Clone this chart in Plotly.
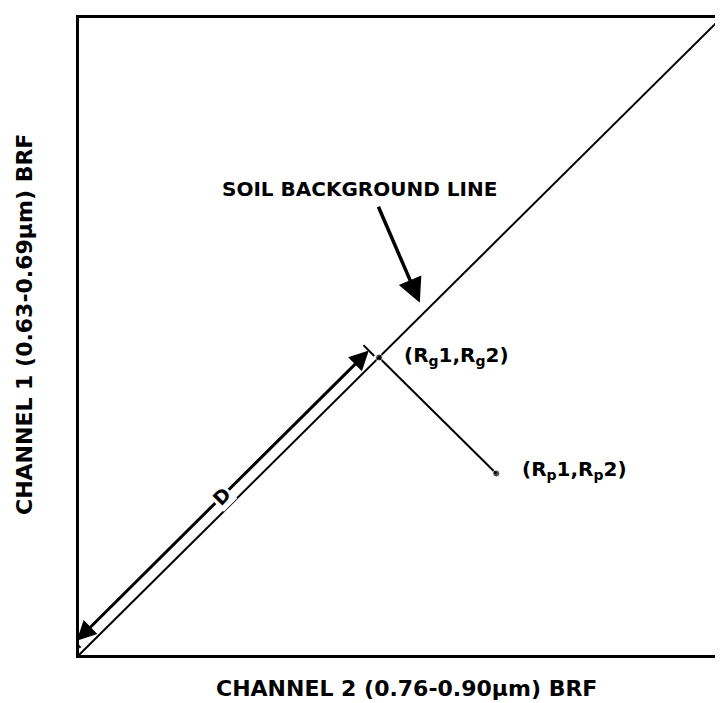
import numpy as np
import plotly.graph_objects as go

# ---- data (normalised BRF units) ----
soil_x = [0.0, 1.008]
soil_y = [0.0, 1.0]
rg_point = [0.471, 0.467]          # (Rg1, Rg2) on the soil line
rp_point = [0.655, 0.285]          # (Rp1, Rp2) plant pixel
d_start = [-0.006, 0.020]          # distance arrow D ends
d_end = [0.455, 0.478]
soil_label_tail = [0.469, 0.706]
soil_label_head = [0.535, 0.553]

x_title = "CHANNEL 2 (0.76-0.90\u03bcm) BRF"
y_title = "CHANNEL 1 (0.63-0.69\u03bcm) BRF"
soil_label = "SOIL BACKGROUND LINE"
rg_label = "(R<sub>g</sub>1,R<sub>g</sub>2)"
rp_label = "(R<sub>p</sub>1,R<sub>p</sub>2)"
d_label = "D"

FONT = "DejaVu Sans"
W, H = 723, 703
OFF = 8                      # page body margin
ML, MT = 79 - OFF, 18 - OFF
PW, PH = 644, 637
MR = W - ML - PW
MB = H - MT - PH
PLOT_BOTTOM = 18 + PH        # screen y of the x axis

fig = go.Figure()

# soil background line
fig.add_trace(go.Scatter(x=soil_x, y=soil_y, mode="lines",
                         line=dict(color="black", width=2), hoverinfo="skip"))
# perpendicular from Rp to the soil line
fig.add_trace(go.Scatter(x=[rg_point[0], rp_point[0]], y=[rg_point[1], rp_point[1]],
                         mode="lines", line=dict(color="black", width=2), hoverinfo="skip"))
# points
fig.add_trace(go.Scatter(x=[rg_point[0], rp_point[0]], y=[rg_point[1], rp_point[1]],
                         mode="markers", marker=dict(color="black", size=[7, 7]),
                         hoverinfo="skip"))

# end bars of D arrow (perpendicular ticks)
ds = np.array(d_start); de = np.array(d_end)
direc = (de - ds) / np.linalg.norm(de - ds)
perp = np.array([-direc[1], direc[0]])
tick = 0.012
for p in (ds, de):
    a = p + perp * tick
    b = p - perp * tick
    fig.add_trace(go.Scatter(x=[a[0], b[0]], y=[a[1], b[1]], mode="lines",
                             line=dict(color="black", width=2), hoverinfo="skip"))

annotations = []
# D arrow (two-headed)
annotations.append(dict(x=d_end[0], y=d_end[1], ax=d_start[0], ay=d_start[1],
                        xref="x", yref="y", axref="x", ayref="y",
                        showarrow=True, arrowhead=2, startarrowhead=2,
                        arrowside="end+start", arrowsize=1.3, startarrowsize=1.3,
                        arrowwidth=3, arrowcolor="black", text=""))
# D label (covers the line)
dm = (ds + de) / 2
annotations.append(dict(x=dm[0], y=dm[1], xref="x", yref="y", text="<b>%s</b>" % d_label,
                        showarrow=False, bgcolor="white", borderpad=1,
                        font=dict(family=FONT, size=19, color="black"), textangle=-45))
# soil background line label arrow
annotations.append(dict(x=soil_label_head[0], y=soil_label_head[1],
                        ax=soil_label_tail[0], ay=soil_label_tail[1],
                        xref="x", yref="y", axref="x", ayref="y",
                        showarrow=True, arrowhead=2, arrowsize=1.4, arrowwidth=3.5,
                        arrowcolor="black", text=""))
annotations.append(dict(x=0.441, y=0.732, xref="x", yref="y", text="<b>%s</b>" % soil_label,
                        showarrow=False, xanchor="center", yanchor="middle",
                        font=dict(family=FONT, size=20, color="black")))
annotations.append(dict(x=rg_point[0] + 0.036, y=rg_point[1] + 0.003, xref="x", yref="y",
                        text="<b>%s</b>" % rg_label, showarrow=False, xanchor="left",
                        yanchor="middle", font=dict(family=FONT, size=20, color="black")))
annotations.append(dict(x=rp_point[0] + 0.037, y=rp_point[1] + 0.006, xref="x", yref="y",
                        text="<b>%s</b>" % rp_label, showarrow=False, xanchor="left",
                        yanchor="middle", font=dict(family=FONT, size=20, color="black")))
# axis titles
annotations.append(dict(x=(406 - 79) / PW, y=(PLOT_BOTTOM - 689) / PH, xref="paper", yref="paper",
                        xanchor="center", yanchor="middle",
                        text="<b>%s</b>" % x_title, showarrow=False,
                        font=dict(family=FONT, size=22, color="black")))
annotations.append(dict(x=(24 - 79) / PW, y=(PLOT_BOTTOM - 325) / PH, xref="paper", yref="paper",
                        xanchor="center", yanchor="middle",
                        text="<b>%s</b>" % y_title, showarrow=False, textangle=-90,
                        font=dict(family=FONT, size=22, color="black")))

fig.update_layout(
    width=W, height=H,
    margin=dict(l=ML, r=MR, t=MT, b=MB),
    paper_bgcolor="white", plot_bgcolor="white",
    showlegend=False,
    annotations=annotations,
    xaxis=dict(range=[0, PW / PH], showgrid=False, zeroline=False, showticklabels=False,
               ticks="", showline=True, linecolor="black", linewidth=3, mirror=True),
    yaxis=dict(range=[0, 1], showgrid=False, zeroline=False, showticklabels=False,
               ticks="", showline=True, linecolor="black", linewidth=3, mirror=False),
)

fig.write_html("out.html")
